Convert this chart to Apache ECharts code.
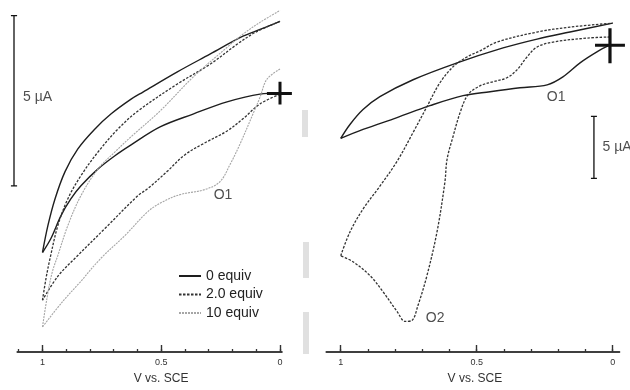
<!DOCTYPE html>
<html>
<head>
<meta charset="utf-8">
<script src="https://cdn.jsdelivr.net/npm/echarts@6/dist/echarts.min.js"></script>
<style>
  html, body { margin: 0; padding: 0; background: #fff; }
  #chart { width: 630px; height: 390px; }
</style>
</head>
<body>
<div id="chart"></div>
<script>
// potential in V vs. SCE, current in µA  ([V, I] pairs)
// left panel: forward scan (0 -> 1 V) and reverse scan (1 -> 0 V)
const leftSolidFwd = [[0,0],[0.084,-0.03],[0.223,-0.26],[0.366,-0.62],[0.505,-1.0],[0.627,-1.53],[0.695,-1.85],[0.766,-2.24],[0.838,-2.74],[0.88,-3.12],[0.922,-3.62],[0.964,-4.29],[1.0,-4.71]];
const leftSolidRev = [[1.0,-4.71],[0.977,-3.91],[0.947,-3.12],[0.905,-2.32],[0.851,-1.65],[0.779,-1.06],[0.712,-0.62],[0.627,-0.18],[0.577,0.03],[0.434,0.62],[0.295,1.15],[0.156,1.68],[0.084,1.88],[0,2.12]];
const leftDashFwd = [[0,-0.03],[0.084,-0.32],[0.156,-0.76],[0.223,-1.12],[0.324,-1.5],[0.4,-1.82],[0.476,-2.32],[0.556,-2.82],[0.598,-3.03],[0.737,-4.0],[0.863,-4.88],[0.935,-5.41],[1.0,-6.12]];
const leftDashRev = [[1.0,-6.12],[0.985,-5.47],[0.968,-4.88],[0.935,-3.91],[0.893,-3.12],[0.838,-2.44],[0.766,-1.74],[0.682,-1.06],[0.598,-0.53],[0.434,0.26],[0.295,0.85],[0.181,1.44],[0.105,1.79],[0,2.12]];
const leftGrayFwd = [[0,0.71],[0.055,0.41],[0.084,-0.12],[0.114,-0.62],[0.168,-1.5],[0.211,-2.12],[0.253,-2.62],[0.316,-2.85],[0.421,-3.0],[0.493,-3.21],[0.556,-3.5],[0.653,-4.21],[0.754,-4.88],[0.842,-5.59],[0.914,-6.15],[1.0,-6.91]];
const leftGrayRev = [[1.0,-6.91],[0.981,-6.06],[0.96,-5.32],[0.935,-4.79],[0.893,-3.91],[0.838,-3.03],[0.766,-2.24],[0.695,-1.74],[0.627,-1.29],[0.505,-0.53],[0.366,0.47],[0.223,1.35],[0.156,1.74],[0.084,2.09],[0,2.44]];

// right panel
const rightSolidFwd = [[0.01,0],[0.058,-0.56],[0.12,-1.45],[0.183,-2.58],[0.241,-3.23],[0.341,-3.47],[0.451,-3.79],[0.55,-4.11],[0.672,-4.92],[0.793,-5.89],[0.918,-6.85],[1.0,-7.58]];
const rightSolidRev = [[1.0,-7.58],[0.966,-6.45],[0.918,-5.24],[0.856,-4.19],[0.734,-2.82],[0.572,-1.45],[0.403,-0.24],[0.278,0.48],[0.157,1.05],[0,1.77]];
const rightDashFwd = [[0.01,0.65],[0.094,0.56],[0.219,0.24],[0.278,-0.16],[0.315,-0.97],[0.352,-2.02],[0.389,-2.66],[0.44,-2.98],[0.488,-3.31],[0.532,-4.03],[0.561,-5.48],[0.587,-7.42],[0.609,-9.27],[0.617,-11.13],[0.646,-15.16],[0.683,-18.71],[0.716,-21.13],[0.738,-22.34],[0.763,-22.42],[0.793,-21.61],[0.845,-20.0],[0.892,-18.71],[0.955,-17.58],[1.0,-17.1]];
const rightDashRev = [[1.0,-17.1],[0.966,-15.16],[0.918,-13.31],[0.856,-11.45],[0.793,-9.44],[0.734,-7.1],[0.683,-5.0],[0.635,-3.06],[0.587,-1.77],[0.536,-0.97],[0.488,-0.48],[0.425,0.24],[0.278,1.05],[0.157,1.45],[0,1.77]];

// start markers (+) and 5 µA scale bars
const leftCross = [[0.055,0],[-0.05,0],[0,0],[0,0.35],[0,-0.32]];
const rightCross = [[0.065,0],[-0.045,0],[0.01,0],[0.01,1.37],[0.01,-1.45]];
const leftScaleBar = [[1.133,2.29],[1.107,2.29],[1.12,2.29],[1.12,-2.71],[1.133,-2.71],[1.107,-2.71]];
const rightScaleBar = [[0.08,-5.73],[0.058,-5.73],[0.069,-5.73],[0.069,-10.73],[0.08,-10.73],[0.058,-10.73]];

// text labels (centre of the text)
const leftNotes = [{name: '5 µA', value: [1.021, -0.09]}, {name: 'O1', value: [0.24, -2.97]}];
const rightNotes = [{name: '5 µA', value: [-0.016, -8.23]}, {name: 'O1', value: [0.208, -4.19]}, {name: 'O2', value: [0.653, -22.0]}];

// axis ticks
const majorTicks = [0, 0.5, 1];
const minorTicksLeft = [0, 0.1, 0.2, 0.3, 0.4, 0.5, 0.6, 0.7, 0.8, 0.9, 1, 1.1];
const minorTicksRight = [0, 0.1, 0.2, 0.3, 0.4, 0.5, 0.6, 0.7, 0.8, 0.9, 1];

const legendNames = ['0 equiv', '2.0 equiv', '10 equiv'];

const chart = echarts.init(document.getElementById('chart'), null, { renderer: 'canvas' });

const FONT = 'Liberation Sans, Arial, sans-serif';
const solidStyle = { color: '#1e1e1e', width: 1.4, type: 'solid' };
const dashStyle = { color: '#333', width: 1.3, type: [2.5, 1.5] };
const grayStyle = { color: '#a6a6a6', width: 1.1, type: [2, 1] };

// xAxis: 0/1 left (minor, major), 2/3 right (minor, major), 4/5 overlays
// yAxis: 0 left, 1 right, 2/3 overlays
function curve(name, data, style, gi) {
    return {
        type: 'line', name: name, data: data,
        xAxisIndex: gi * 2 + 1, yAxisIndex: gi,
        symbol: 'none', smooth: 0.35, silent: true,
        lineStyle: style, itemStyle: { color: style.color },
        z: 3
    };
}

// marks that sit outside the panels go on a wide overlay grid with the same scale
function path(data, width, gi) {
    return {
        type: 'line', data: data, xAxisIndex: 4 + gi, yAxisIndex: 2 + gi,
        symbol: 'none', clip: false, silent: true,
        lineStyle: { color: '#111', width: width }, z: 4
    };
}

function notes(data, gi) {
    return {
        type: 'scatter', data: data, xAxisIndex: 4 + gi, yAxisIndex: 2 + gi,
        symbolSize: 0, clip: false, silent: true,
        label: {
            show: true, formatter: '{b}', position: 'inside',
            color: '#222', fontSize: 14, fontFamily: FONT
        }
    };
}

function minorAxis(gi, ticks, min, max) {
    return {
        type: 'value', gridIndex: gi, position: 'bottom', inverse: true, min: min, max: max,
        axisLine: { show: true, onZero: false, lineStyle: { color: '#333', width: 1.5 } },
        axisTick: { show: true, inside: true, length: 3, customValues: ticks, lineStyle: { color: '#333', width: 1.3 } },
        axisLabel: { show: false }, splitLine: { show: false }
    };
}

function majorAxis(gi, min, max, pad) {
    return {
        type: 'value', gridIndex: gi, position: 'bottom', inverse: true, min: min, max: max,
        name: 'V vs. SCE', nameLocation: 'middle', nameGap: 21,
        nameTextStyle: { color: '#333', fontSize: 12, fontFamily: FONT, padding: [0, 0, 0, pad] },
        axisLine: { show: true, onZero: false, lineStyle: { color: '#333', width: 1.5 } },
        axisTick: { show: true, inside: true, length: 7, customValues: majorTicks, lineStyle: { color: '#333', width: 1.4 } },
        axisLabel: { show: true, customValues: majorTicks, margin: 6, color: '#333', fontSize: 9, fontFamily: FONT },
        splitLine: { show: false }
    };
}

function overlayAxis(gi, min, max) {
    return { type: 'value', gridIndex: gi, inverse: true, min: min, max: max, show: false };
}

const option = {
    backgroundColor: '#fff',
    animation: false,
    grid: [
        { left: 17.3, width: 264.6, top: 0, height: 354 },
        { left: 326.3, width: 293.2, top: 0.6, height: 353.4 },
        { left: 0, width: 630, top: 0, height: 354 },
        { left: 0, width: 630, top: 0.6, height: 353.4 }
    ],
    xAxis: [
        minorAxis(0, minorTicksLeft, -0.008, 1.106),
        majorAxis(0, -0.008, 1.106, 23),
        minorAxis(1, minorTicksRight, -0.025, 1.053),
        majorAxis(1, -0.025, 1.053, 4),
        overlayAxis(2, -1.47368, 1.17895),
        overlayAxis(3, -0.0636, 2.2526)
    ],
    yAxis: [
        { type: 'value', gridIndex: 0, min: -7.65, max: 2.75, show: false },
        { type: 'value', gridIndex: 1, min: -24.9, max: 3.6, show: false },
        { type: 'value', gridIndex: 2, min: -7.65, max: 2.75, show: false },
        { type: 'value', gridIndex: 3, min: -24.9, max: 3.6, show: false }
    ],
    legend: {
        data: legendNames, orient: 'vertical', left: 178, top: 269, padding: 0,
        itemWidth: 22, itemHeight: 14, itemGap: 4.5, selectedMode: false,
        itemStyle: { opacity: 0 },
        textStyle: { color: '#222', fontSize: 14, fontFamily: FONT }
    },
    graphic: [
        // grey scan artefacts between the panels
        { type: 'rect', shape: { x: 302, y: 110, width: 6, height: 27 }, style: { fill: '#e0e0e0' } },
        { type: 'rect', shape: { x: 303, y: 242, width: 6, height: 36 }, style: { fill: '#e0e0e0' } },
        { type: 'rect', shape: { x: 303, y: 312, width: 6, height: 42 }, style: { fill: '#e0e0e0' } }
    ],
    series: [
        curve('0 equiv', leftSolidFwd, solidStyle, 0),
        curve('0 equiv', leftSolidRev, solidStyle, 0),
        curve('2.0 equiv', leftDashFwd, dashStyle, 0),
        curve('2.0 equiv', leftDashRev, dashStyle, 0),
        curve('10 equiv', leftGrayFwd, grayStyle, 0),
        curve('10 equiv', leftGrayRev, grayStyle, 0),
        curve('right solid', rightSolidFwd, solidStyle, 1),
        curve('right solid', rightSolidRev, solidStyle, 1),
        curve('right dashed', rightDashFwd, dashStyle, 1),
        curve('right dashed', rightDashRev, dashStyle, 1),
        path(leftCross, 3, 0),
        path(rightCross, 3.2, 1),
        path(leftScaleBar, 1.3, 0),
        path(rightScaleBar, 1.3, 1),
        notes(leftNotes, 0),
        notes(rightNotes, 1)
    ]
};

chart.setOption(option);
</script>
</body>
</html>
